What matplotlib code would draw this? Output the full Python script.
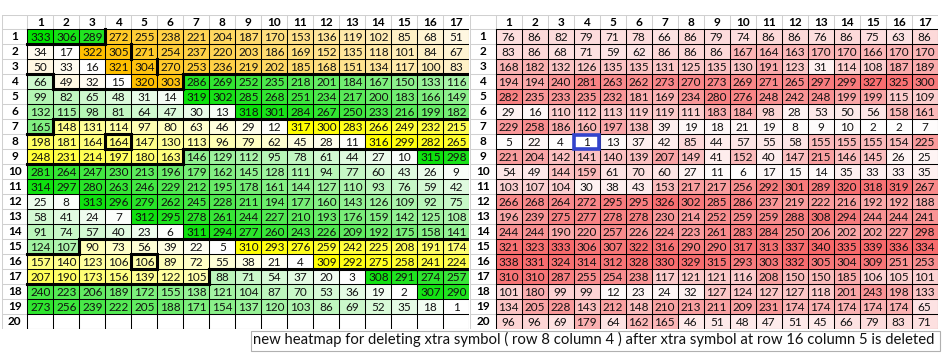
import numpy as np
import matplotlib
matplotlib.use("Agg")
import matplotlib.pyplot as plt
from matplotlib.colors import LinearSegmentedColormap, Normalize
from matplotlib.patches import Rectangle

plt.rcParams['font.family'] = ['Lato', 'DejaVu Sans']

# ---------------- data ----------------
col_labels = [str(i) for i in range(1, 18)]
row_labels = [str(i) for i in range(1, 21)]

left_values = [
    [333, 306, 289, 272, 255, 238, 221, 204, 187, 170, 153, 136, 119, 102, 85, 68, 51],
    [34, 17, 322, 305, 271, 254, 237, 220, 203, 186, 169, 152, 135, 118, 101, 84, 67],
    [50, 33, 16, 321, 304, 270, 253, 236, 219, 202, 185, 168, 151, 134, 117, 100, 83],
    [66, 49, 32, 15, 320, 303, 286, 269, 252, 235, 218, 201, 184, 167, 150, 133, 116],
    [99, 82, 65, 48, 31, 14, 319, 302, 285, 268, 251, 234, 217, 200, 183, 166, 149],
    [132, 115, 98, 81, 64, 47, 30, 13, 318, 301, 284, 267, 250, 233, 216, 199, 182],
    [165, 148, 131, 114, 97, 80, 63, 46, 29, 12, 317, 300, 283, 266, 249, 232, 215],
    [198, 181, 164, 164, 147, 130, 113, 96, 79, 62, 45, 28, 11, 316, 299, 282, 265],
    [248, 231, 214, 197, 180, 163, 146, 129, 112, 95, 78, 61, 44, 27, 10, 315, 298],
    [281, 264, 247, 230, 213, 196, 179, 162, 145, 128, 111, 94, 77, 60, 43, 26, 9],
    [314, 297, 280, 263, 246, 229, 212, 195, 178, 161, 144, 127, 110, 93, 76, 59, 42],
    [25, 8, 313, 296, 279, 262, 245, 228, 211, 194, 177, 160, 143, 126, 109, 92, 75],
    [58, 41, 24, 7, 312, 295, 278, 261, 244, 227, 210, 193, 176, 159, 142, 125, 108],
    [91, 74, 57, 40, 23, 6, 311, 294, 277, 260, 243, 226, 209, 192, 175, 158, 141],
    [124, 107, 90, 73, 56, 39, 22, 5, 310, 293, 276, 259, 242, 225, 208, 191, 174],
    [157, 140, 123, 106, 106, 89, 72, 55, 38, 21, 4, 309, 292, 275, 258, 241, 224],
    [207, 190, 173, 156, 139, 122, 105, 88, 71, 54, 37, 20, 3, 308, 291, 274, 257],
    [240, 223, 206, 189, 172, 155, 138, 121, 104, 87, 70, 53, 36, 19, 2, 307, 290],
    [273, 256, 239, 222, 205, 188, 171, 154, 137, 120, 103, 86, 69, 52, 35, 18, 1],
    [None] * 17,
]

# colour group of each left cell: G = green scale, O = orange scale, Y = yellow scale, - = empty
left_groups = [
    "GGGOOOOOOOOOOOOOO",
    "OOOOOOOOOOOOOOOOO",
    "OOOOOOOOOOOOOOOOO",
    "GOOOOOGGGGGGGGGGG",
    "GGGGGGGGGGGGGGGGG",
    "GGGGGGGGGGGGGGGGG",
    "GYYYYYYYYYYYYYYYY",
    "YYYYYYYYYYYYYYYYY",
    "YYYYYYGGGGGGGGGGG",
    "GGGGGGGGGGGGGGGGG",
    "GGGGGGGGGGGGGGGGG",
    "GGGGGGGGGGGGGGGGG",
    "GGGGGGGGGGGGGGGGG",
    "GGGGGGGGGGGGGGGGG",
    "GGYYYYYYYYYYYYYYY",
    "YYYYYYYYYYYYYYYYY",
    "YYYYYYYGGGGGGGGGG",
    "GGGGGGGGGGGGGGGGG",
    "GGGGGGGGGGGGGGGGG",
    "-----------------",
]

right_values = [
    [76, 86, 82, 79, 71, 78, 66, 86, 79, 74, 86, 86, 76, 86, 75, 63, 86],
    [83, 86, 68, 71, 59, 62, 86, 86, 86, 167, 164, 163, 170, 170, 166, 170, 170],
    [168, 182, 132, 126, 135, 135, 131, 125, 135, 130, 191, 123, 31, 114, 108, 187, 189],
    [194, 194, 240, 281, 263, 262, 273, 270, 273, 269, 271, 265, 297, 299, 327, 325, 300],
    [282, 235, 233, 235, 232, 181, 169, 234, 280, 276, 248, 242, 248, 199, 199, 115, 109],
    [29, 16, 110, 112, 113, 119, 119, 111, 183, 184, 98, 28, 53, 50, 56, 158, 161],
    [229, 258, 186, 160, 197, 138, 39, 19, 18, 21, 19, 8, 9, 10, 2, 2, 7],
    [5, 22, 4, 1, 13, 37, 42, 85, 44, 57, 55, 58, 155, 155, 155, 154, 225],
    [221, 204, 142, 141, 140, 139, 207, 149, 41, 152, 40, 147, 215, 146, 145, 26, 25],
    [54, 49, 144, 159, 61, 70, 60, 27, 11, 6, 17, 15, 14, 35, 33, 33, 35],
    [103, 107, 104, 30, 38, 43, 153, 217, 217, 256, 292, 301, 289, 320, 318, 319, 267],
    [266, 268, 264, 272, 295, 295, 326, 302, 285, 286, 237, 219, 222, 216, 192, 192, 188],
    [196, 239, 275, 277, 278, 278, 230, 214, 252, 259, 259, 288, 308, 294, 244, 244, 241],
    [244, 244, 190, 220, 257, 226, 224, 223, 261, 283, 284, 250, 206, 202, 202, 227, 298],
    [321, 323, 333, 306, 307, 322, 316, 290, 290, 317, 313, 337, 340, 335, 339, 336, 334],
    [338, 331, 324, 314, 312, 328, 330, 329, 315, 293, 303, 332, 305, 304, 309, 251, 253],
    [310, 310, 287, 255, 254, 238, 117, 121, 121, 116, 208, 150, 150, 185, 106, 105, 101],
    [101, 180, 99, 99, 12, 23, 24, 32, 127, 124, 127, 127, 118, 201, 243, 198, 133],
    [134, 205, 228, 143, 212, 148, 210, 213, 211, 209, 231, 174, 174, 174, 174, 174, 65],
    [96, 96, 69, 179, 64, 162, 165, 46, 51, 48, 47, 51, 45, 66, 79, 83, 71],
]

# marked cells (row, column), 1-based
left_boxes = [(8, 4), (16, 5)]
left_extra_vlines = [(2, 4), (3, 5)]   # thick line on right side of (row, col)
right_box = (8, 4)

caption = ("new heatmap for deleting xtra symbol ( row 8 column 4 ) after xtra "
           "symbol at row 16 column 5 is deleted")

group_colors = {"G": "#00E000", "O": "#FFC000", "Y": "#FFFF00"}
red_color = "#F8696B"

# ---------------- figure ----------------
W, H = 942, 353
fig = plt.figure(figsize=(W / 100, H / 100), dpi=100)

CW, RH = 26.0, 15.0            # cell size in px
HW_L, HW_R = 25.3, 25.7        # row header width in px
HH = 14.3                      # column header height in px
TOP = 15.0

def make_axes(x0px, hw):
    width = hw + 17 * CW
    height = HH + 20 * RH
    ax = fig.add_axes([x0px / W, 1 - (TOP + height) / H, width / W, height / H])
    ax.set_xlim(-hw / CW, 17)
    ax.set_ylim(20, -HH / RH)
    ax.axis("off")
    return ax, hw / CW, HH / RH

thin = 0.75
grey = "#D0D0D0"
fs = 8.5

def draw_frame(ax, hwu, hhu):
    # header grey grid
    for c in range(18):
        ax.plot([c, c], [-hhu, 0], color=grey, lw=thin, zorder=2)
    ax.plot([-hwu, 17], [-hhu, -hhu], color=grey, lw=thin, zorder=2)
    for r in range(21):
        ax.plot([-hwu, 0], [r, r], color=grey, lw=thin, zorder=2)
    ax.plot([-hwu, -hwu], [-hhu, 20], color=grey, lw=thin, zorder=2)
    # data black grid
    for r in range(21):
        ax.plot([0, 17], [r, r], color="black", lw=thin, zorder=3)
    for c in range(18):
        ax.plot([c, c], [0, 20], color="black", lw=thin, zorder=3)
    for c, lab in enumerate(col_labels):
        ax.text(c + 0.5, -hhu / 2, lab, ha="center", va="center",
                fontsize=fs, fontweight="bold", zorder=5)
    for r, lab in enumerate(row_labels):
        ax.text(-hwu / 2, r + 0.5, lab, ha="center", va="center",
                fontsize=fs, fontweight="bold", zorder=5)

# ---- left table ----
axL, hwu, hhu = make_axes(2.0, HW_L)
lv = np.array([[np.nan if v is None else v for v in row] for row in left_values], float)
rgb = np.ones((20, 17, 3))
for g, col in group_colors.items():
    mask = np.array([[ch == g for ch in row] for row in left_groups])
    vals = lv[mask]
    cmap = LinearSegmentedColormap.from_list(g, ["#FFFFFF", col])
    norm = Normalize(vals.min(), vals.max())
    rgb[mask] = cmap(norm(vals))[:, :3]
axL.imshow(rgb, extent=(0, 17, 20, 0), aspect="auto", interpolation="nearest", zorder=1)
draw_frame(axL, hwu, hhu)
for r in range(20):
    for c in range(17):
        v = left_values[r][c]
        if v is not None:
            axL.text(c + 0.5, r + 0.55, str(v), ha="center", va="center",
                     fontsize=fs, color="#111111", zorder=6)

thick = 2.2
for r in range(20):
    for c in range(17):
        g = left_groups[r][c]
        if g == "-":
            continue
        if c < 16:
            g2 = left_groups[r][c + 1]
            if g2 != "-" and g2 != g:
                axL.plot([c + 1, c + 1], [r, r + 1], color="black", lw=thick,
                         solid_capstyle="projecting", zorder=4)
        if r < 19:
            g2 = left_groups[r + 1][c]
            if g2 != "-" and g2 != g:
                axL.plot([c, c + 1], [r + 1, r + 1], color="black", lw=thick,
                         solid_capstyle="projecting", zorder=4)
for (r, c) in left_extra_vlines:
    axL.plot([c, c], [r - 1, r], color="black", lw=thick, zorder=4)
for (r, c) in left_boxes:
    axL.add_patch(Rectangle((c - 1, r - 1), 1, 1, fill=False, ec="black",
                            lw=thick, zorder=4))

# ---- right table ----
axR, hwu, hhu = make_axes(470.0, HW_R)
rv = np.array(right_values, float)
rcmap = LinearSegmentedColormap.from_list("red", ["#FFFFFF", red_color])
axR.imshow(rv, cmap=rcmap, norm=Normalize(rv.min(), rv.max()),
           extent=(0, 17, 20, 0), aspect="auto", interpolation="nearest", zorder=1)
draw_frame(axR, hwu, hhu)
for r in range(20):
    for c in range(17):
        axR.text(c + 0.5, r + 0.55, str(right_values[r][c]), ha="center", va="center",
                 fontsize=fs, color="#111111", zorder=6)
br, bc = right_box
axR.add_patch(Rectangle((bc - 1 + 0.03, br - 1 + 0.05), 0.94, 0.9, fill=False,
                        ec="#3344CC", lw=2.6, zorder=7))

# ---- caption ----
x0, x1, y0, y1 = 250.5, 940.0, 330.5, 351.0
fig.add_artist(Rectangle((x0 / W, 1 - y1 / H), (x1 - x0) / W, (y1 - y0) / H,
                         transform=fig.transFigure, fill=True, fc="white",
                         ec="#B0B0B0", lw=0.8))
fig.text(253 / W, 1 - 339.5 / H, caption, ha="left", va="center", fontsize=10.7,
         color="#111111")

fig.savefig("out.png", dpi=100, facecolor="white")
